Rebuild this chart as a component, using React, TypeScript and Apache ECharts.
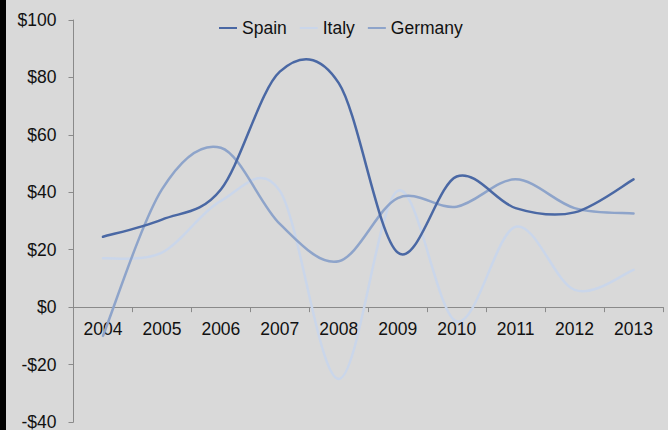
import React, { useEffect, useRef } from "react";
import * as echarts from "echarts";

const categories = ["2004", "2005", "2006", "2007", "2008", "2009", "2010", "2011", "2012", "2013"];
const spain = [24.5, 30.5, 41, 82, 78, 19, 45.5, 34.5, 33, 44.5];
const italy = [17, 19, 37, 40.5, -25, 40.5, -5, 28, 6, 13];
const germany = [-10, 41, 55.5, 29, 16, 38, 35, 44.5, 34.5, 32.6];
const seriesNames = ["Spain", "Italy", "Germany"];
const yTicks = { min: -40, max: 100, interval: 20 };

const FONT = "'Liberation Sans', Arial, Helvetica, sans-serif";
const GRID = { left: 73.5, right: 5, top: 20, bottom: 8 };
const H = 430;

export default function App() {
  const ref = useRef<HTMLDivElement>(null);
  useEffect(() => {
    if (!ref.current) return;
    const chart = echarts.init(ref.current, null, { renderer: "svg" });
    const colors = ["#4a68a4", "#cad6ea", "#8ea4ca"];
    const data = [spain, italy, germany];
    const plotH = H - GRID.top - GRID.bottom;
    const zeroOffset = -(plotH * (0 - yTicks.min)) / (yTicks.max - yTicks.min);

    const makeRender = (color: string) => (params: any, api: any) => {
      if (params.dataIndex !== 0) return null;
      const n = params.dataInsideLength;
      const pts: number[][] = [];
      for (let j = 0; j < n; j++) {
        pts.push(api.coord([api.value(0, j), api.value(1, j)]));
      }
      let d = `M${pts[0][0]},${pts[0][1]}`;
      for (let j = 0; j < n - 1; j++) {
        const p0 = pts[Math.max(0, j - 1)];
        const p1 = pts[j];
        const p2 = pts[j + 1];
        const p3 = pts[Math.min(n - 1, j + 2)];
        const c1x = p1[0] + (p2[0] - p0[0]) / 6;
        const c1y = p1[1] + (p2[1] - p0[1]) / 6;
        const c2x = p2[0] - (p3[0] - p1[0]) / 6;
        const c2y = p2[1] - (p3[1] - p1[1]) / 6;
        d += ` C${c1x},${c1y} ${c2x},${c2y} ${p2[0]},${p2[1]}`;
      }
      return {
        type: "path",
        shape: { pathData: d },
        style: { stroke: color, fill: "none", lineWidth: 2.5, lineJoin: "round", lineCap: "round" },
      };
    };

    chart.setOption({
      animation: false,
      backgroundColor: "#d9d9d9",
      textStyle: { fontFamily: FONT },
      graphic: [
        { type: "rect", left: 0, top: 0, shape: { x: 0, y: 0, width: 6, height: 430 }, style: { fill: "#000" } },
      ],
      legend: {
        top: 14,
        left: 214,
        itemWidth: 18,
        itemHeight: 2,
        itemGap: 13,
        icon: "rect",
        textStyle: { fontSize: 17.5, color: "#111", fontFamily: FONT },
        data: seriesNames,
      },
      grid: { ...GRID, containLabel: false, outerBoundsMode: "none" },
      xAxis: {
        type: "category",
        data: categories,
        boundaryGap: true,
        offset: zeroOffset,
        axisLine: { onZero: false, lineStyle: { color: "#8a8a8a", width: 1 } },
        axisTick: { show: true, length: 5, lineStyle: { color: "#8a8a8a" } },
        axisLabel: { fontSize: 17.5, color: "#111", margin: 13, fontFamily: FONT },
        splitLine: { show: false },
      },
      yAxis: {
        type: "value",
        min: yTicks.min,
        max: yTicks.max,
        interval: yTicks.interval,
        axisLine: { show: true, lineStyle: { color: "#8a8a8a", width: 1 } },
        axisTick: { show: true, length: 5, lineStyle: { color: "#8a8a8a" } },
        axisLabel: {
          fontSize: 17.5,
          lineHeight: 14,
          color: "#111",
          margin: 17,
          fontFamily: FONT,
          formatter: (v: number) => (v < 0 ? "-$" + Math.abs(v) : "$" + v),
        },
        splitLine: { show: false },
      },
      series: seriesNames.map((name, i) => ({
        name,
        type: "custom",
        data: data[i].map((v, j) => [j, v]),
        encode: { x: 0, y: 1 },
        itemStyle: { color: colors[i] },
        renderItem: makeRender(colors[i]),
        clip: false,
        z: i === 0 ? 5 : i === 2 ? 4 : 3,
      })),
    });
    return () => chart.dispose();
  }, []);
  return (
    <div
      ref={ref}
      style={{ position: "fixed", left: 0, top: 0, width: 668, height: 430 }}
    />
  );
}
